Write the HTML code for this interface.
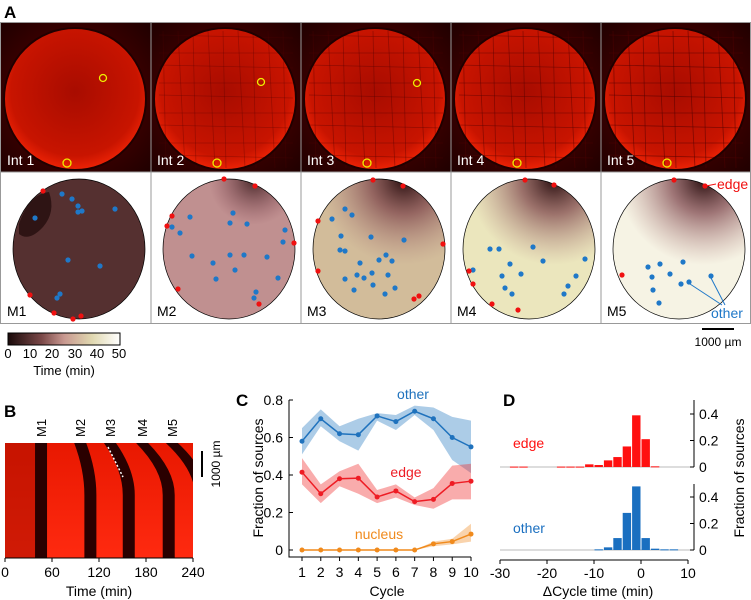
<!DOCTYPE html>
<html><head><meta charset="utf-8"><style>
html,body{margin:0;padding:0;background:#fff;width:751px;height:600px;overflow:hidden}
svg{display:block;font-family:"Liberation Sans",Arial,sans-serif}
</style></head><body>
<svg id="fig" width="751" height="600" viewBox="0 0 751 600">
<defs>
<radialGradient id="dishGlow" cx="50%" cy="45%" r="60%">
<stop offset="0" stop-color="#a80c00"/><stop offset="0.75" stop-color="#c81400"/><stop offset="1" stop-color="#ff2a08"/></radialGradient>
<radialGradient id="bgGlow" cx="50%" cy="50%" r="70%">
<stop offset="0.6" stop-color="#3a0000"/><stop offset="1" stop-color="#200000"/></radialGradient>
<linearGradient id="cbar" x1="0" x2="1" y1="0" y2="0">
<stop offset="0" stop-color="#1a0a0a"/><stop offset="0.3" stop-color="#7a4848"/><stop offset="0.5" stop-color="#c89890"/><stop offset="0.75" stop-color="#e0d8b0"/><stop offset="1" stop-color="#ffffff"/></linearGradient>
<radialGradient id="darkTop" gradientUnits="userSpaceOnUse" cx="103" cy="8" r="85">
<stop offset="0" stop-color="#2a1010" stop-opacity="1"/><stop offset="0.4" stop-color="#7a4048" stop-opacity="0.7"/><stop offset="1" stop-color="#b08080" stop-opacity="0"/></radialGradient>
<radialGradient id="darkTop2" gradientUnits="userSpaceOnUse" cx="103" cy="8" r="45">
<stop offset="0" stop-color="#2a1010" stop-opacity="0.8"/><stop offset="1" stop-color="#804050" stop-opacity="0"/></radialGradient>
<linearGradient id="kymo" x1="0" x2="0" y1="0" y2="1"><stop offset="0" stop-color="#e81800"/><stop offset="1" stop-color="#ff2a10"/></linearGradient>
<clipPath id="mapClip"><ellipse cx="78" cy="77" rx="66" ry="70"/></clipPath>
<clipPath id="kymoClip"><rect x="5" y="443" width="188" height="115"/></clipPath>
</defs>

<text x="4" y="18" font-size="17" font-weight="bold">A</text>
<g id="panelA"></g>

<g>
<rect x="8" y="333" width="112" height="12" fill="url(#cbar)" stroke="#000" stroke-width="1"/>
<g font-size="13" text-anchor="middle">
<text x="8" y="358">0</text><text x="30" y="358">10</text><text x="52" y="358">20</text><text x="75" y="358">30</text><text x="97" y="358">40</text><text x="119" y="358">50</text></g>
<text x="64" y="375" font-size="13" text-anchor="middle">Time (min)</text>
</g>
<g>
<line x1="702" y1="329" x2="734" y2="329" stroke="#000" stroke-width="2"/>
<text x="718" y="346" font-size="12" text-anchor="middle">1000 µm</text></g>

<text x="4" y="417" font-size="17" font-weight="bold">B</text>
<g id="panelB"></g>

<text x="236" y="406" font-size="17" font-weight="bold">C</text>
<g id="panelC"></g>

<text x="503" y="406" font-size="17" font-weight="bold">D</text>
<g id="panelD"></g>
</svg>
<script>
const NS='http://www.w3.org/2000/svg';
function mk(parent,tag,attrs,text){const e=document.createElementNS(NS,tag);for(const k in attrs)e.setAttribute(k,attrs[k]);if(text!==undefined)e.textContent=text;parent.appendChild(e);return e;}

// ---------- Panel C data ----------
const cycles=[1,2,3,4,5,6,7,8,9,10];
const otherMean=[0.58,0.70,0.62,0.615,0.715,0.685,0.74,0.70,0.60,0.55];
const otherHi=[0.65,0.75,0.66,0.70,0.73,0.72,0.77,0.76,0.71,0.69];
const otherLo=[0.51,0.66,0.58,0.53,0.69,0.64,0.72,0.64,0.48,0.41];
const edgeMean=[0.415,0.30,0.38,0.383,0.283,0.315,0.258,0.27,0.355,0.367];
const edgeHi=[0.49,0.35,0.42,0.46,0.32,0.35,0.28,0.33,0.45,0.46];
const edgeLo=[0.35,0.25,0.34,0.30,0.25,0.28,0.24,0.22,0.27,0.27];
const nucMean=[0,0,0,0,0,0,0,0.033,0.045,0.085];
const nucHi=[0,0,0,0,0,0,0,0.045,0.06,0.14];
const nucLo=[0,0,0,0,0,0,0,0.02,0.03,0.045];
const cYTicks=[0,0.2,0.4,0.6,0.8];
const cYTickLabels=['0','0.2','0.4','0.6','0.8'];

// ---------- Panel D data ----------
const binStarts=[-30,-28,-26,-24,-22,-20,-18,-16,-14,-12,-10,-8,-6,-4,-2,0,2,4,6,8];
const edgeFrac=[0,0.003,0.003,0,0,0,0.003,0.003,0.003,0.02,0.015,0.05,0.075,0.155,0.39,0.21,0.005,0,0,0];
const otherFrac=[0,0,0,0,0,0,0,0,0,0,0.005,0.02,0.09,0.28,0.48,0.09,0.01,0.005,0.005,0];
const dXTicks=[-30,-20,-10,0,10];
const dYTicks=[0,0.2,0.4];

// ---------- Panel B data (wave times, min) ----------
const waveLabels=['M1','M2','M3','M4','M5'];
const waveTopTime=[46,96,134,175,213];
const waveBottomTime=[46,109,158,209,250];
const bTicks=[0,60,120,180,240];

(function(){
 const g=document.getElementById('panelC');
 const x=c=>302+(c-1)*(471-302)/9, y=v=>550-v*(150/0.8);
 function band(hi,lo,fill,name){let d='M'+cycles.map((c,i)=>x(c)+','+y(hi[i])).join('L');
  for(let i=cycles.length-1;i>=0;i--)d+='L'+x(cycles[i])+','+y(lo[i]);
  const p=mk(g,'path',{d:d+'Z',fill:fill,'fill-opacity':0.4});
  
  }
 function line(m,col,name){const p=mk(g,'polyline',{points:cycles.map((c,i)=>x(c)+','+y(m[i])).join(' '),fill:'none',stroke:col,'stroke-width':1.5});
  
  
  cycles.forEach((c,i)=>{const ci=mk(g,'circle',{cx:x(c),cy:y(m[i]),r:2.5,fill:col});
   
   });}
 band(otherHi,otherLo,'#2f7fc4','other-band');band(edgeHi,edgeLo,'#f03030','edge-band');band(nucHi,nucLo,'#f09030','nucleus-band');
 line(otherMean,'#1f72bd','other');line(edgeMean,'#ee1c24','edge');line(nucMean,'#f08a1c','nucleus');
 const ax=mk(g,'path',{d:'M289,400V557H471',fill:'none',stroke:'#000','stroke-width':1});
 
 
 cYTicks.forEach((v,i)=>{mk(g,'line',{x1:289,x2:293,y1:y(v),y2:y(v),stroke:'#000'});
  const t=mk(g,'text',{x:283,y:y(v)+5,'font-size':14,'text-anchor':'end'},cYTickLabels[i]);
  
  });
 cycles.forEach(c=>{mk(g,'line',{x1:x(c),x2:x(c),y1:557,y2:561,stroke:'#000'});
  const t=mk(g,'text',{x:x(c),y:577,'font-size':14,'text-anchor':'middle'},String(c));
  
  });
 const xt=mk(g,'text',{x:387,y:596,'font-size':14,'text-anchor':'middle'},'Cycle');
 
 
 const yt=mk(g,'text',{x:0,y:0,'font-size':14,'text-anchor':'middle',transform:'translate(263,478) rotate(-90)'},'Fraction of sources');
 
 
 [['other',413,399,'#1f72bd'],['edge',406,477,'#ee1c24'],['nucleus',379,539,'#f08a1c']].forEach(a=>{
  const t=mk(g,'text',{x:a[1],y:a[2],'font-size':14,'text-anchor':'middle',fill:a[3]},a[0]);
  
  });
})();

(function(){
 const g=document.getElementById('panelD');
 const x=v=>641+4.7*v;
 const yT=v=>467-v*132.5, yB=v=>550-v*132.5;
 function hist(vals,yf,base,col,name){
  mk(g,'line',{x1:500,x2:690,y1:base,y2:base,stroke:'#bbb','stroke-width':1});
  binStarts.forEach((b,i)=>{if(vals[i]<=0)return;const h=base-yf(vals[i]);
   const r=mk(g,'rect',{x:x(b)+0.5,y:yf(vals[i]),width:4.7*2-1,height:Math.max(h,1),fill:col});
   
   });
 }
 hist(edgeFrac,yT,467,'#ff1010','edge');hist(otherFrac,yB,550,'#1a6fc0','other');
 [[yT,400,467],[yB,484,550]].forEach(a=>{
  const ax=mk(g,'line',{x1:694,x2:694,y1:a[1],y2:a[2],stroke:'#000'});
  
  
  dYTicks.forEach(v=>{mk(g,'line',{x1:690,x2:694,y1:a[0](v),y2:a[0](v),stroke:'#000'});
   const t=mk(g,'text',{x:699,y:a[0](v)+5,'font-size':14},v===0?'0':String(v));
   
   });
 });
 const xa=mk(g,'line',{x1:500,x2:688,y1:560,y2:560,stroke:'#000'});
 
 
 dXTicks.forEach(v=>{mk(g,'line',{x1:x(v),x2:x(v),y1:560,y2:564,stroke:'#000'});
  const t=mk(g,'text',{x:x(v),y:578,'font-size':14,'text-anchor':'middle'},String(v));
  
  });
 const xt=mk(g,'text',{x:598,y:596,'font-size':14,'text-anchor':'middle'},'ΔCycle time (min)');
 
 
 const yt=mk(g,'text',{x:0,y:0,'font-size':14,'text-anchor':'middle',transform:'translate(744,478) rotate(-90)'},'Fraction of sources');
 
 
 const e=mk(g,'text',{x:513,y:448,'font-size':14,fill:'#ff1010'},'edge');
 
 
 const o=mk(g,'text',{x:513,y:533,'font-size':14,fill:'#1a6fc0'},'other');
 
 
})();

(function(){
 const g=document.getElementById('panelA');
 const mapFills=['#553030','#c09090','#d2bc9a','#ebe6bd','#f6f3e4'];
 const overlay=[null,'url(#darkTop2)','url(#darkTop)','url(#darkTop)','url(#darkTop)'];
 const blueDots=[
  [[61,22],[71,27],[77,34],[77,40],[81,39],[114,37],[34,46],[67,88],[99,94],[59,122],[56,126]],
  [[82,41],[79,51],[96,52],[39,45],[21,55],[29,61],[134,58],[132,70],[41,84],[62,91],[79,83],[93,83],[116,85],[65,107],[84,98],[127,106],[105,120],[103,126]],
  [[44,37],[51,43],[31,47],[40,64],[70,65],[103,68],[39,78],[44,79],[85,83],[78,88],[91,89],[59,91],[71,101],[56,103],[63,106],[87,103],[44,107],[72,113],[94,116],[53,118],[84,122]],
  [[39,77],[48,77],[82,75],[92,89],[134,87],[59,92],[70,102],[51,104],[22,98],[125,104],[117,114],[54,116],[61,122],[113,122]],
  [[47,95],[59,92],[82,90],[51,105],[69,102],[80,112],[88,110],[110,104],[52,118],[58,131]]];
 const redDots=[
  [[42,19],[29,123],[53,141],[72,147],[80,144]],
  [[73,7],[104,14],[21,44],[16,54],[143,71],[27,117],[108,132]],
  [[72,8],[102,14],[17,49],[142,72],[17,99],[118,124],[113,127]],
  [[74,8],[103,13],[18,99],[22,112],[41,132],[67,138]],
  [[73,8],[104,14],[21,103]]];
 const yellow=[[102,55],[110,59],[116,60],[0,0],[0,0]];
 for(let i=0;i<5;i++){
  const x0=1+i*150;
  const t=mk(g,'g',{transform:'translate('+x0+',23)'});
  
  
  mk(t,'rect',{x:0,y:0,width:150,height:149,fill:'url(#bgGlow)'});
  mk(t,'circle',{cx:74,cy:76,r:71,fill:'url(#dishGlow)'});
  if(i>0){for(let k=0;k<9;k++){mk(t,'line',{x1:8,x2:142,y1:12+k*15+(k%2)*3,y2:15+k*15,stroke:'#500000','stroke-width':0.8,opacity:0.25+0.08*i});
   mk(t,'line',{y1:8,y2:145,x1:12+k*15,x2:15+k*15+(k%2)*4,stroke:'#500000','stroke-width':0.8,opacity:0.25+0.08*i});}}
  mk(t,'circle',{cx:74,cy:76,r:71,fill:'none',stroke:'#200000','stroke-width':2});
  if(yellow[i][0])mk(t,'circle',{cx:yellow[i][0],cy:yellow[i][1],r:3.5,fill:'none',stroke:'#ee0',"stroke-width":1.3});
  mk(t,'circle',{cx:66,cy:140,r:4,fill:'none',stroke:'#ee0',"stroke-width":1.3});
  const lb=mk(t,'text',{x:6,y:142,'font-size':14,fill:'#fff'},'Int '+(i+1));
  
  
  const b=mk(g,'g',{transform:'translate('+x0+',172)'});
  
  
  mk(b,'rect',{x:0,y:0,width:150,height:151,fill:'#fff'});
  mk(b,'ellipse',{cx:78,cy:77,rx:66,ry:70,fill:mapFills[i]});
  if(overlay[i])mk(b,'rect',{x:0,y:0,width:150,height:151,fill:overlay[i],'clip-path':'url(#mapClip)'});
  if(i===0){mk(b,'path',{d:'M18,52 Q28,22 48,20 Q55,40 42,55 Q28,70 18,62Z',fill:'#2e1414'});}
  mk(b,'ellipse',{cx:78,cy:77,rx:66,ry:70,fill:'none',stroke:'#000','stroke-width':0.7});
  blueDots[i].forEach(p=>{const c=mk(b,'circle',{cx:p[0],cy:p[1],r:2.6,fill:'#1f78c8'});
   
   });
  redDots[i].forEach(p=>{const c=mk(b,'circle',{cx:p[0],cy:p[1],r:2.6,fill:'#f01010'});
   
   });
  const ml=mk(b,'text',{x:6,y:144,'font-size':14},'M'+(i+1));
  
  
 }
 mk(g,'rect',{x:0.5,y:22.5,width:750,height:301,fill:'none',stroke:'#999'});
 mk(g,'line',{x1:0,x2:751,y1:172,y2:172,stroke:'#999'});
 for(let i=1;i<5;i++)mk(g,'line',{x1:1+i*150,x2:1+i*150,y1:22,y2:324,stroke:'#999'});
 const ed=mk(g,'text',{x:717,y:189,'font-size':14,fill:'#f01010'},'edge');
 
 
 mk(g,'line',{x1:706,y1:186,x2:716,y2:184,stroke:'#f01010'});
 const ot=mk(g,'text',{x:711,y:318,'font-size':14,fill:'#1f78c8'},'other');
 
 
 mk(g,'line',{x1:690,y1:284,x2:722,y2:305,stroke:'#1f78c8'});
 mk(g,'line',{x1:711,y1:278,x2:725,y2:305,stroke:'#1f78c8'});
})();

(function(){
 const g=document.getElementById('panelB');
 const x=t=>5+t*(188/240);
 mk(g,'rect',{x:5,y:443,width:188,height:115,fill:'url(#kymo)'});
 mk(g,'rect',{x:5,y:443,width:30,height:115,fill:'#b01000',opacity:0.6});
 const bands=mk(g,'g',{'clip-path':'url(#kymoClip)'});
 waveLabels.forEach((lab,i)=>{
  const xt=x(waveTopTime[i]), xb=x(waveBottomTime[i]);
  const ye=495, w=6;
  const p=mk(bands,'path',{d:`M${xt-w},443 Q${xb-w},${ye-25} ${xb-w},${ye} L${xb-w},558 L${xb+w},558 L${xb+w},${ye} Q${xb+w},${ye-25} ${xt+w},443Z`,fill:'#2a0000'});
  
  
  const tl=mk(g,'text',{x:0,y:0,'font-size':13,'text-anchor':'start',transform:`translate(${xt+5},437) rotate(-90)`},lab);
  
  });
 mk(g,'line',{x1:108,y1:447,x2:123,y2:477,stroke:'#fff','stroke-width':1.5,'stroke-dasharray':'2,2'});
 mk(g,'line',{x1:5,x2:193,y1:558,y2:558,stroke:'#000'});
 bTicks.forEach(t=>{mk(g,'line',{x1:x(t),x2:x(t),y1:558,y2:562,stroke:'#000'});
  const tl=mk(g,'text',{x:x(t),y:577,'font-size':14,'text-anchor':'middle'},String(t));
  
  });
 const xt=mk(g,'text',{x:99,y:596,'font-size':14,'text-anchor':'middle'},'Time (min)');
 
 
 mk(g,'line',{x1:202,x2:202,y1:451,y2:477,stroke:'#000','stroke-width':2});
 const sb=mk(g,'text',{x:0,y:0,'font-size':12,'text-anchor':'middle',transform:'translate(220,464) rotate(-90)'},'1000 µm');
 
 
})();
</script>
</body></html>
